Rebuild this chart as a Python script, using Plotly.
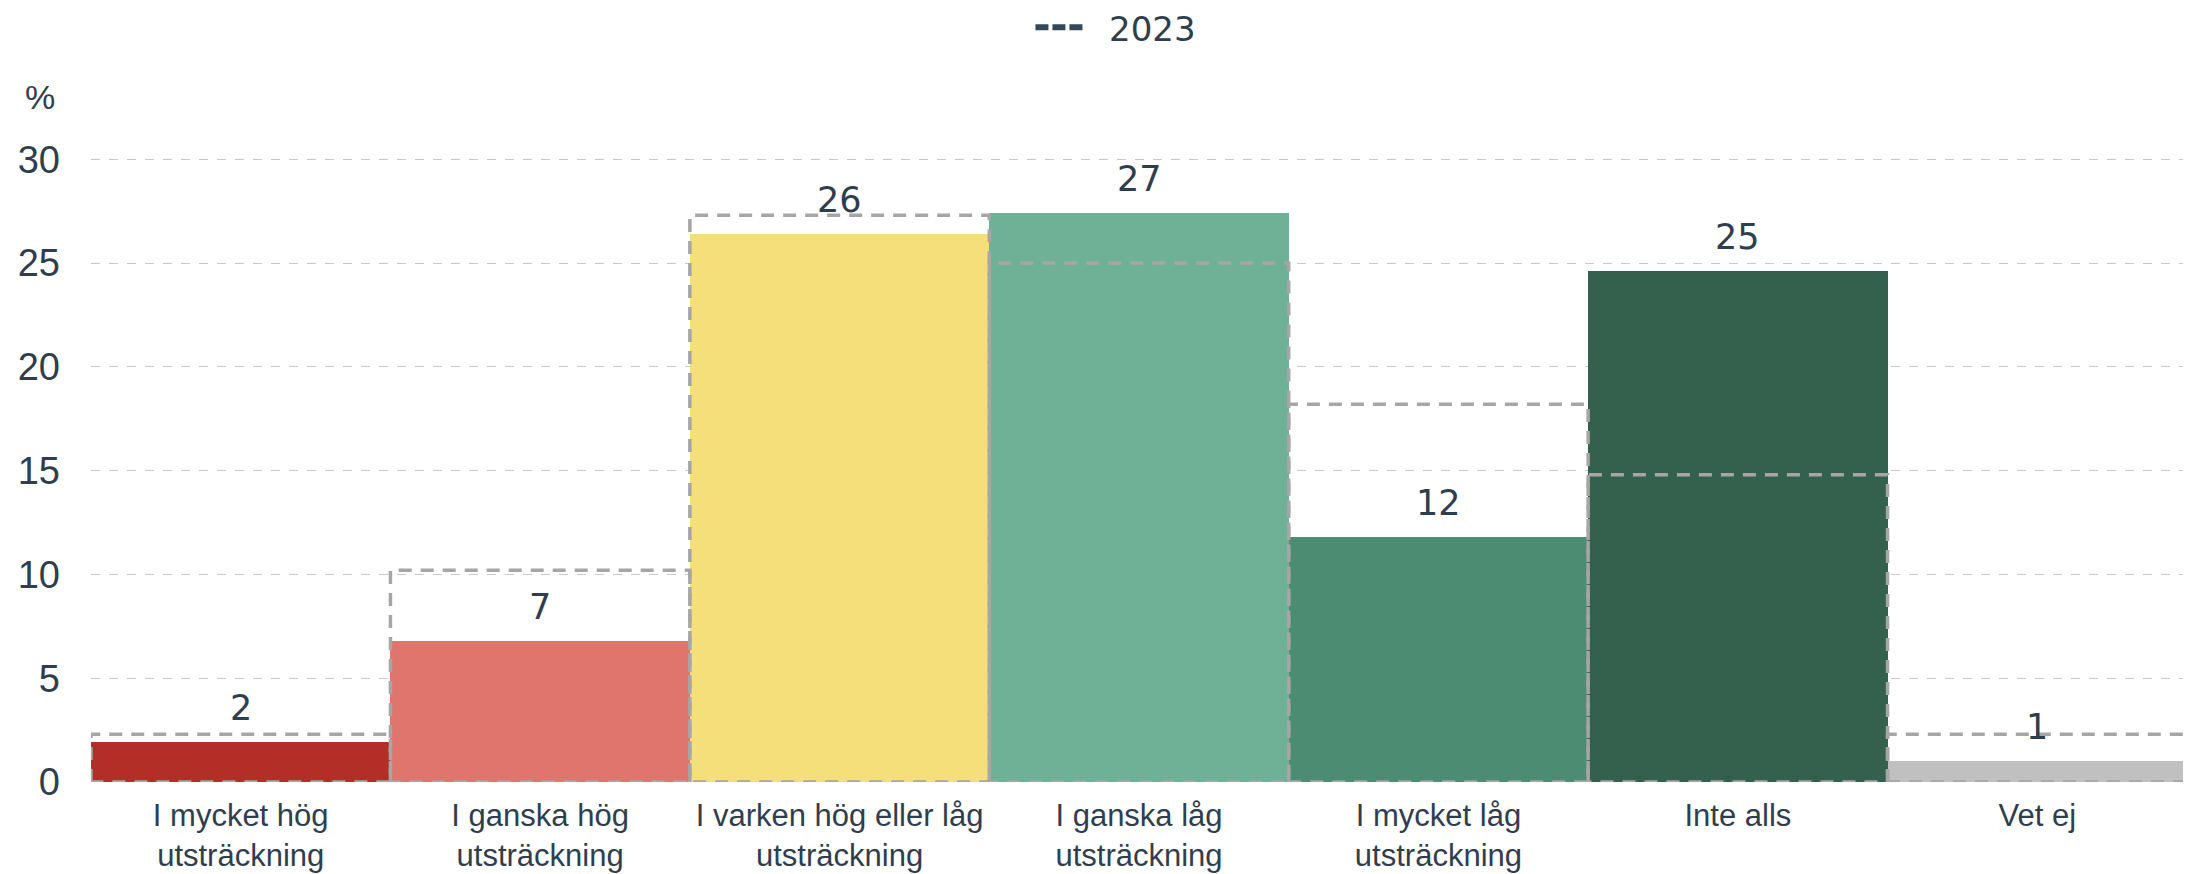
import plotly.graph_objects as go

categories = [
    "I mycket hög<br>utsträckning",
    "I ganska hög<br>utsträckning",
    "I varken hög eller låg<br>utsträckning",
    "I ganska låg<br>utsträckning",
    "I mycket låg<br>utsträckning",
    "Inte alls",
    "Vet ej",
]
values_2024 = [1.95, 6.8, 26.4, 27.4, 11.8, 24.6, 1.0]
values_2023 = [2.3, 10.2, 27.3, 25.0, 18.2, 14.8, 2.3]
bar_colors = ["#b22e27", "#e0756d", "#f5df7b", "#6fb197", "#4b8c72", "#34604e", "#c0c0c0"]
y_ticks = [0, 5, 10, 15, 20, 25, 30]

TEXT = "#2f3e4e"
FONT = "Liberation Sans, Arial, sans-serif"
FONT2 = "DejaVu Sans, Verdana, sans-serif"

xs = list(range(len(categories)))

fig = go.Figure()
fig.add_trace(go.Bar(
    x=xs, y=values_2024, width=1.0,
    marker=dict(color=bar_colors, line=dict(width=0)),
    showlegend=False, hoverinfo="skip",
))

# 2023 dashed outlines
ox, oy = [], []
for i, v in zip(xs, values_2023):
    ox += [i - 0.5, i - 0.5, i + 0.5, i + 0.5, i - 0.5, None]
    oy += [0, v, v, 0, 0, None]
fig.add_trace(go.Scatter(
    x=ox, y=oy, mode="lines",
    line=dict(color="#a6a6a6", width=3.5, dash="13px,9px"),
    showlegend=False, hoverinfo="skip", connectgaps=False,
))
# legend-only entry
fig.add_trace(go.Scatter(
    x=[None], y=[None], mode="lines", name="&nbsp;&nbsp;2023",
    line=dict(color="#34495a", width=6, dash="13px,4px"),
))

for i, v in zip(xs, values_2024):
    fig.add_annotation(
        x=i, y=v, text=f"{v:.0f}", showarrow=False,
        yanchor="bottom", yshift=12,
        font=dict(size=35, color=TEXT, family=FONT2),
    )

fig.add_annotation(
    xref="paper", yref="paper", x=-0.0245, y=1.0895, text="%", showarrow=False,
    xanchor="center", yanchor="middle",
    font=dict(size=34, color=TEXT, family=FONT),
)

fig.update_layout(
    width=2183, height=866,
    margin=dict(l=83, r=4, t=145.3, b=92, autoexpand=False),
    paper_bgcolor="white", plot_bgcolor="white",
    bargap=0,
    font=dict(family=FONT, color=TEXT),
    legend=dict(
        orientation="h", x=0.489, xanchor="center", y=1.1992, yanchor="middle",
        font=dict(size=34, color=TEXT, family=FONT2),
        bgcolor="rgba(0,0,0,0)", itemwidth=47,
    ),
    xaxis=dict(
        range=[-0.5, 6.5], tickmode="array", tickvals=xs, ticktext=categories,
        showgrid=False, zeroline=False, showline=False, ticks="",
        tickfont=dict(size=31, color=TEXT, family=FONT),
        ticklabelstandoff=12,
    ),
    yaxis=dict(
        range=[0, 30.3], tickmode="array", tickvals=y_ticks,
        showgrid=True, gridcolor="#c8c8c8", gridwidth=1, griddash="dash",
        zeroline=False, showline=False, ticks="",
        tickfont=dict(size=38, color=TEXT, family=FONT),
        ticklabelstandoff=30,
    ),
)

fig.write_html("out.html")
